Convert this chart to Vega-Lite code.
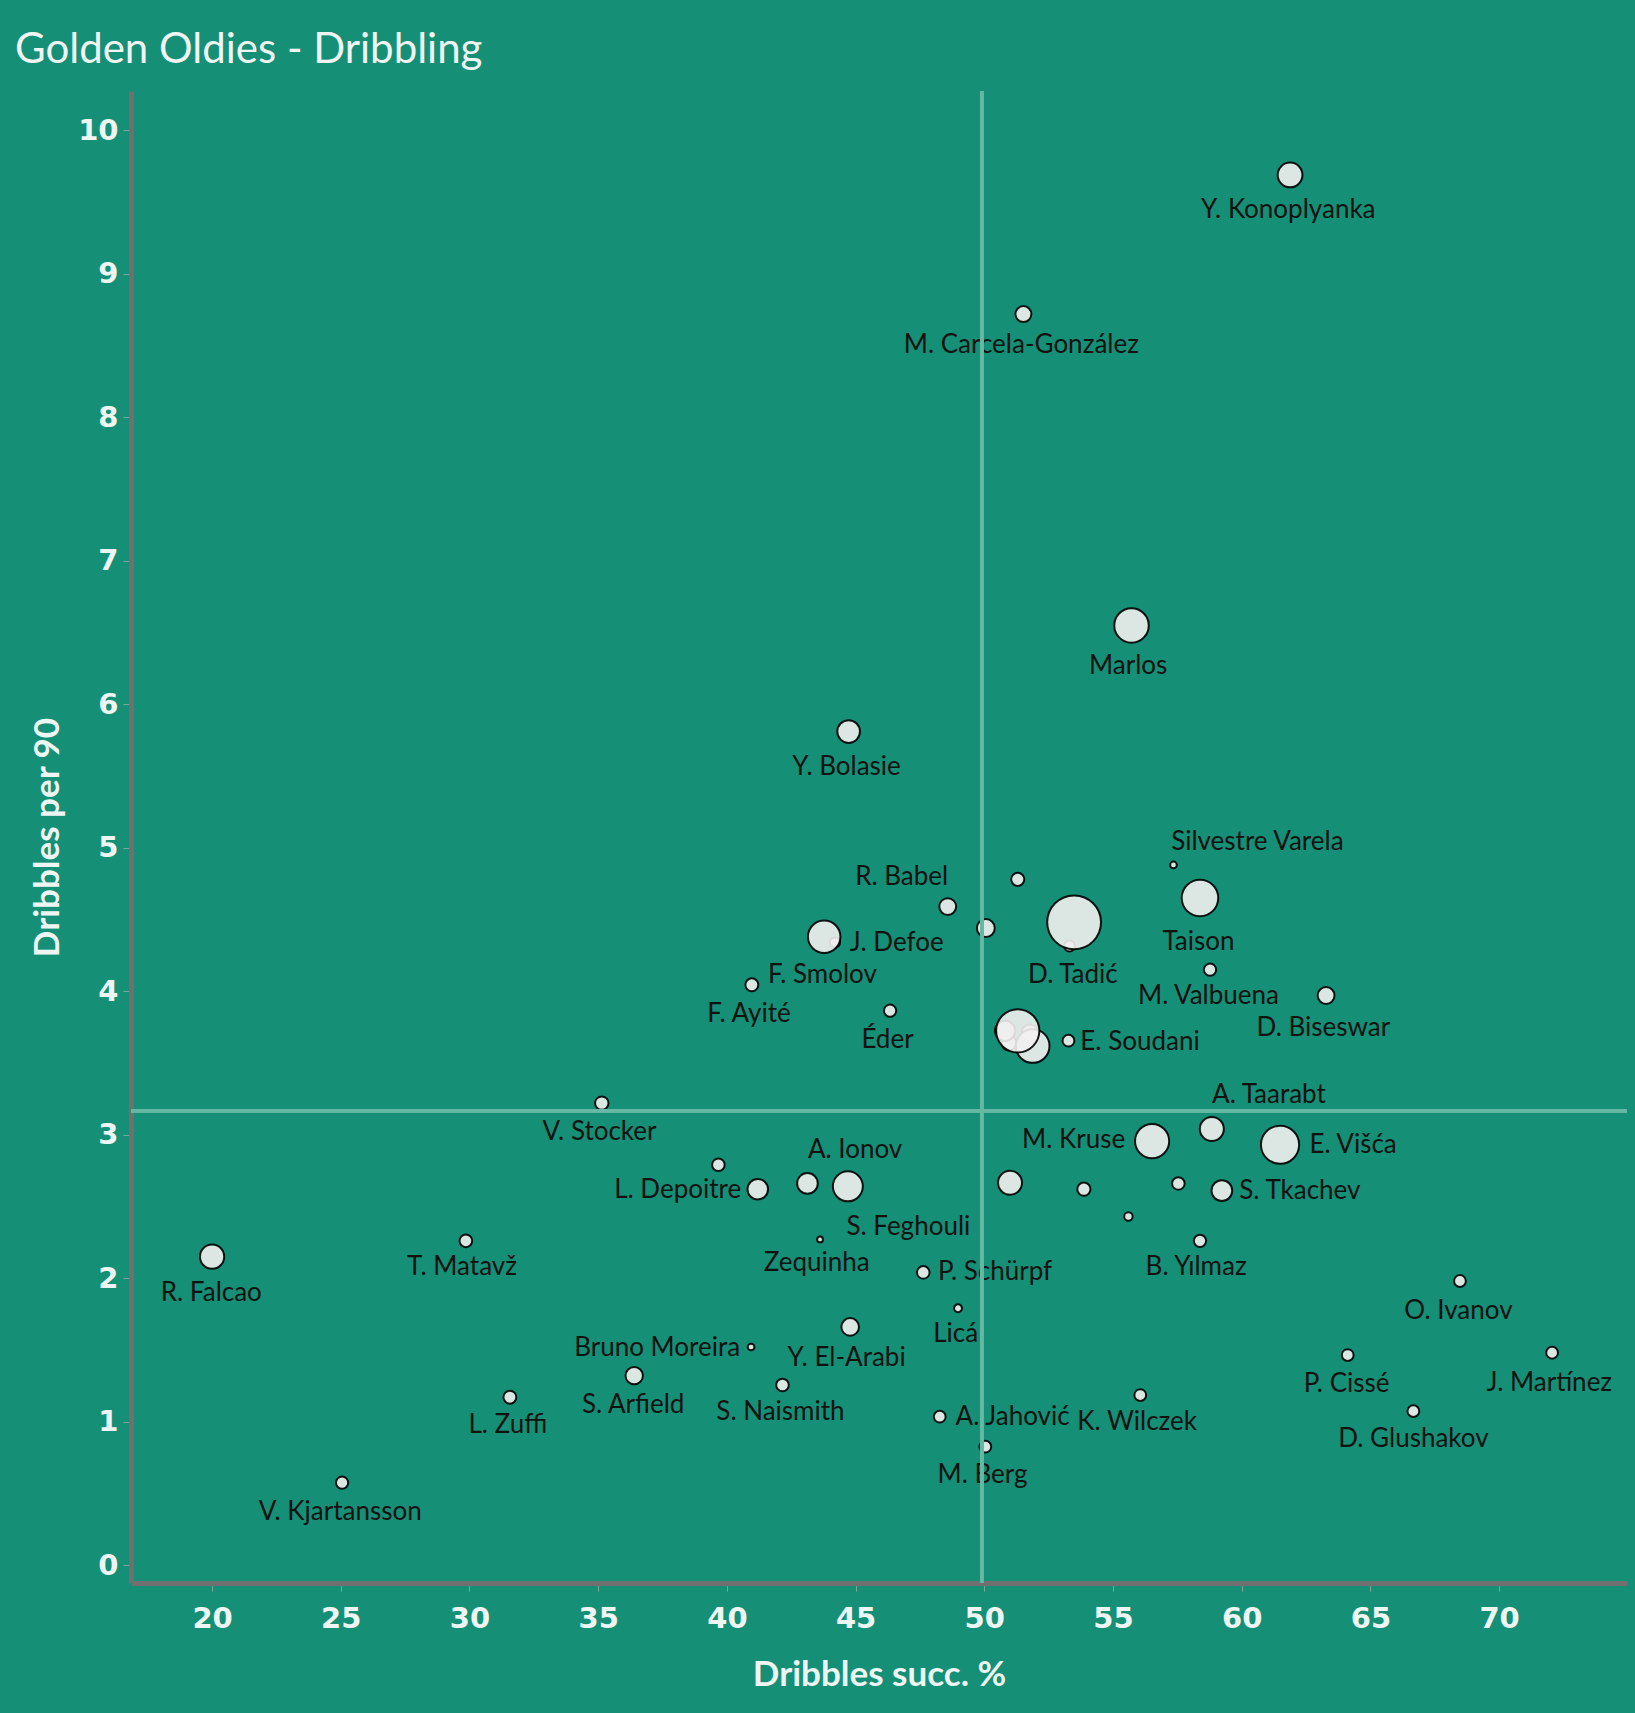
{
  "$schema": "https://vega.github.io/schema/vega-lite/v6.json",
  "width": 1496,
  "height": 1492,
  "autosize": {"type": "none"},
  "padding": {"left": 131, "top": 91, "right": 8, "bottom": 130},
  "background": "#158f76",
  "config": {"view": {"stroke": null}, "font": "Lato"},
  "title": {
    "text": "Golden Oldies - Dribbling",
    "anchor": "start",
    "frame": "group",
    "dx": -116,
    "dy": 44,
    "offset": 29,
    "baseline": "alphabetic",
    "fontSize": 42,
    "fontWeight": "normal",
    "font": "Lato",
    "color": "#f0f5f3"
  },
  "data": {
    "values": [
      {"player": "Y. Konoplyanka", "succ": 61.88, "per90": 9.69, "weight": 216, "label_x": 61.81, "label_y": 9.445},
      {"player": "M. Carcela-González", "succ": 51.52, "per90": 8.72, "weight": 90, "label_x": 51.44, "label_y": 8.503},
      {"player": "Marlos", "succ": 55.72, "per90": 6.55, "weight": 420, "label_x": 55.59, "label_y": 6.265},
      {"player": "Y. Bolasie", "succ": 44.73, "per90": 5.81, "weight": 182, "label_x": 44.65, "label_y": 5.565},
      {"player": "Silvestre Varela", "succ": 57.35, "per90": 4.88, "weight": 16, "label_x": 60.61, "label_y": 5.038},
      {"player": "R. Babel", "succ": 48.58, "per90": 4.59, "weight": 100, "label_x": 46.79, "label_y": 4.798},
      {"player": null, "succ": 51.3, "per90": 4.78, "weight": 61},
      {"player": null, "succ": 50.06, "per90": 4.44, "weight": 114},
      {"player": "D. Tadić", "succ": 53.49, "per90": 4.48, "weight": 1024, "label_x": 53.44, "label_y": 4.113},
      {"player": null, "succ": 53.31, "per90": 4.315, "weight": 42},
      {"player": "Taison", "succ": 58.38, "per90": 4.65, "weight": 471, "label_x": 58.32, "label_y": 4.345},
      {"player": "M. Valbuena", "succ": 58.77, "per90": 4.15, "weight": 53, "label_x": 58.71, "label_y": 3.966},
      {"player": "D. Biseswar", "succ": 63.28, "per90": 3.97, "weight": 100, "label_x": 63.17, "label_y": 3.741},
      {"player": "J. Defoe", "succ": 43.78, "per90": 4.38, "weight": 372, "label_x": 46.6, "label_y": 4.334},
      {"player": "F. Smolov", "succ": 44.2, "per90": 4.34, "weight": 36, "label_x": 43.71, "label_y": 4.113},
      {"player": "F. Ayité", "succ": 40.97, "per90": 4.045, "weight": 59, "label_x": 40.86, "label_y": 3.841},
      {"player": "Éder", "succ": 46.34, "per90": 3.864, "weight": 53, "label_x": 46.24, "label_y": 3.66},
      {"player": null, "succ": 51.3, "per90": 3.724, "weight": 660},
      {"player": null, "succ": 51.88, "per90": 3.618, "weight": 400},
      {"player": null, "succ": 50.81, "per90": 3.724, "weight": 144},
      {"player": null, "succ": 50.96, "per90": 3.64, "weight": 81},
      {"player": null, "succ": 51.78, "per90": 3.71, "weight": 100},
      {"player": "E. Soudani", "succ": 53.27, "per90": 3.655, "weight": 49, "label_x": 56.05, "label_y": 3.648},
      {"player": "V. Stocker", "succ": 35.14, "per90": 3.22, "weight": 64, "label_x": 35.05, "label_y": 3.02},
      {"player": "A. Taarabt", "succ": 58.84, "per90": 3.04, "weight": 204, "label_x": 61.06, "label_y": 3.28},
      {"player": "M. Kruse", "succ": 56.52, "per90": 2.955, "weight": 412, "label_x": 53.47, "label_y": 2.961},
      {"player": "E. Višća", "succ": 61.49, "per90": 2.93, "weight": 515, "label_x": 64.33, "label_y": 2.93},
      {"player": null, "succ": 39.67, "per90": 2.79, "weight": 56},
      {"player": "L. Depoitre", "succ": 41.2, "per90": 2.62, "weight": 149, "label_x": 38.09, "label_y": 2.614},
      {"player": "A. Ionov", "succ": 43.13, "per90": 2.66, "weight": 151, "label_x": 44.98, "label_y": 2.893},
      {"player": "S. Feghouli", "succ": 44.7, "per90": 2.64, "weight": 317, "label_x": 47.05, "label_y": 2.358},
      {"player": "Zequinha", "succ": 43.62, "per90": 2.27, "weight": 12, "label_x": 43.49, "label_y": 2.103},
      {"player": null, "succ": 51.0, "per90": 2.665, "weight": 202},
      {"player": null, "succ": 53.87, "per90": 2.62, "weight": 61},
      {"player": null, "succ": 57.54, "per90": 2.66, "weight": 56},
      {"player": "S. Tkachev", "succ": 59.23, "per90": 2.61, "weight": 151, "label_x": 62.26, "label_y": 2.61},
      {"player": null, "succ": 55.6, "per90": 2.43, "weight": 25},
      {"player": "B. Yılmaz", "succ": 58.38, "per90": 2.26, "weight": 53, "label_x": 58.23, "label_y": 2.077},
      {"player": "P. Schürpf", "succ": 47.63, "per90": 2.04, "weight": 56, "label_x": 50.42, "label_y": 2.042},
      {"player": "Licá", "succ": 48.98, "per90": 1.79, "weight": 22, "label_x": 48.89, "label_y": 1.608},
      {"player": "R. Falcao", "succ": 20.0, "per90": 2.15, "weight": 207, "label_x": 19.97, "label_y": 1.894},
      {"player": "T. Matavž", "succ": 29.86, "per90": 2.26, "weight": 56, "label_x": 29.71, "label_y": 2.079},
      {"player": "Bruno Moreira", "succ": 40.94, "per90": 1.52, "weight": 16, "label_x": 37.29, "label_y": 1.515},
      {"player": "Y. El-Arabi", "succ": 44.79, "per90": 1.66, "weight": 110, "label_x": 44.65, "label_y": 1.441},
      {"player": "S. Arfield", "succ": 36.4, "per90": 1.32, "weight": 106, "label_x": 36.36, "label_y": 1.115},
      {"player": "L. Zuffi", "succ": 31.57, "per90": 1.17, "weight": 59, "label_x": 31.49, "label_y": 0.976},
      {"player": "S. Naismith", "succ": 42.16, "per90": 1.255, "weight": 56, "label_x": 42.08, "label_y": 1.069},
      {"player": "A. Jahović", "succ": 48.27, "per90": 1.034, "weight": 49, "label_x": 51.1, "label_y": 1.03},
      {"player": "M. Berg", "succ": 50.04, "per90": 0.825, "weight": 49, "label_x": 49.93, "label_y": 0.627},
      {"player": "K. Wilczek", "succ": 56.06, "per90": 1.185, "weight": 49, "label_x": 55.94, "label_y": 0.999},
      {"player": "O. Ivanov", "succ": 68.48, "per90": 1.98, "weight": 49, "label_x": 68.42, "label_y": 1.773},
      {"player": "P. Cissé", "succ": 64.12, "per90": 1.464, "weight": 49, "label_x": 64.08, "label_y": 1.262},
      {"player": "J. Martínez", "succ": 72.06, "per90": 1.48, "weight": 49, "label_x": 71.95, "label_y": 1.271},
      {"player": "D. Glushakov", "succ": 66.67, "per90": 1.073, "weight": 49, "label_x": 66.67, "label_y": 0.876},
      {"player": "V. Kjartansson", "succ": 25.05, "per90": 0.574, "weight": 53, "label_x": 24.98, "label_y": 0.372}
    ]
  },
  "layer": [
    {
      "mark": {"type": "circle", "fill": "#f2f0f0", "stroke": "#000000", "strokeWidth": 2, "fillOpacity": 0.9, "strokeOpacity": 0.9},
      "encoding": {
        "x": {
          "field": "succ",
          "type": "quantitative",
          "scale": {"domain": [16.85, 74.97], "nice": false, "zero": false},
          "axis": {
            "title": "Dribbles succ. %",
            "values": [20, 25, 30, 35, 40, 45, 50, 55, 60, 65, 70],
            "format": "d",
            "grid": false,
            "domainColor": "#707070",
            "domainWidth": 5,
            "tickColor": "#7fa59b",
            "tickSize": 8,
            "tickWidth": 1,
            "labelFont": "DejaVu Sans",
            "labelFontSize": 29,
            "labelFontWeight": "bold",
            "labelColor": "#eef6f3",
            "labelPadding": 13,
            "titleFont": "Lato",
            "titleFontSize": 35,
            "titleFontWeight": "bold",
            "titleColor": "#eef6f3",
            "titlePadding": 24
          }
        },
        "y": {
          "field": "per90",
          "type": "quantitative",
          "scale": {"domain": [-0.125, 10.275], "nice": false, "zero": false},
          "axis": {
            "title": "Dribbles per 90",
            "values": [0, 1, 2, 3, 4, 5, 6, 7, 8, 9, 10],
            "format": "d",
            "grid": false,
            "domainColor": "#707070",
            "domainWidth": 5,
            "tickColor": "#7fa59b",
            "tickSize": 8,
            "tickWidth": 1,
            "labelFont": "DejaVu Sans",
            "labelFontSize": 29,
            "labelFontWeight": "bold",
            "labelColor": "#eef6f3",
            "labelPadding": 5,
            "titleFont": "Lato",
            "titleFontSize": 35,
            "titleFontWeight": "bold",
            "titleColor": "#eef6f3",
            "titlePadding": 12
          }
        },
        "size": {"field": "weight", "type": "quantitative", "scale": {"domain": [0, 1024], "range": [0, 2900]}, "legend": null},
        "order": {"field": "weight", "type": "quantitative", "sort": "ascending"}
      }
    },
    {
      "transform": [{"filter": "isValid(datum.label_x)"}],
      "mark": {"type": "text", "font": "Lato", "fontSize": 26, "fontWeight": "normal", "color": "#111111", "align": "center", "baseline": "middle"},
      "encoding": {
        "x": {"field": "label_x", "type": "quantitative"},
        "y": {"field": "label_y", "type": "quantitative"},
        "text": {"field": "player", "type": "nominal"}
      }
    },
    {
      "mark": {"type": "rule", "color": "#66b8a4", "strokeWidth": 3},
      "encoding": {"x": {"datum": 49.9}}
    },
    {
      "mark": {"type": "rule", "color": "#66b8a4", "strokeWidth": 3},
      "encoding": {"y": {"datum": 3.167}}
    }
  ]
}
